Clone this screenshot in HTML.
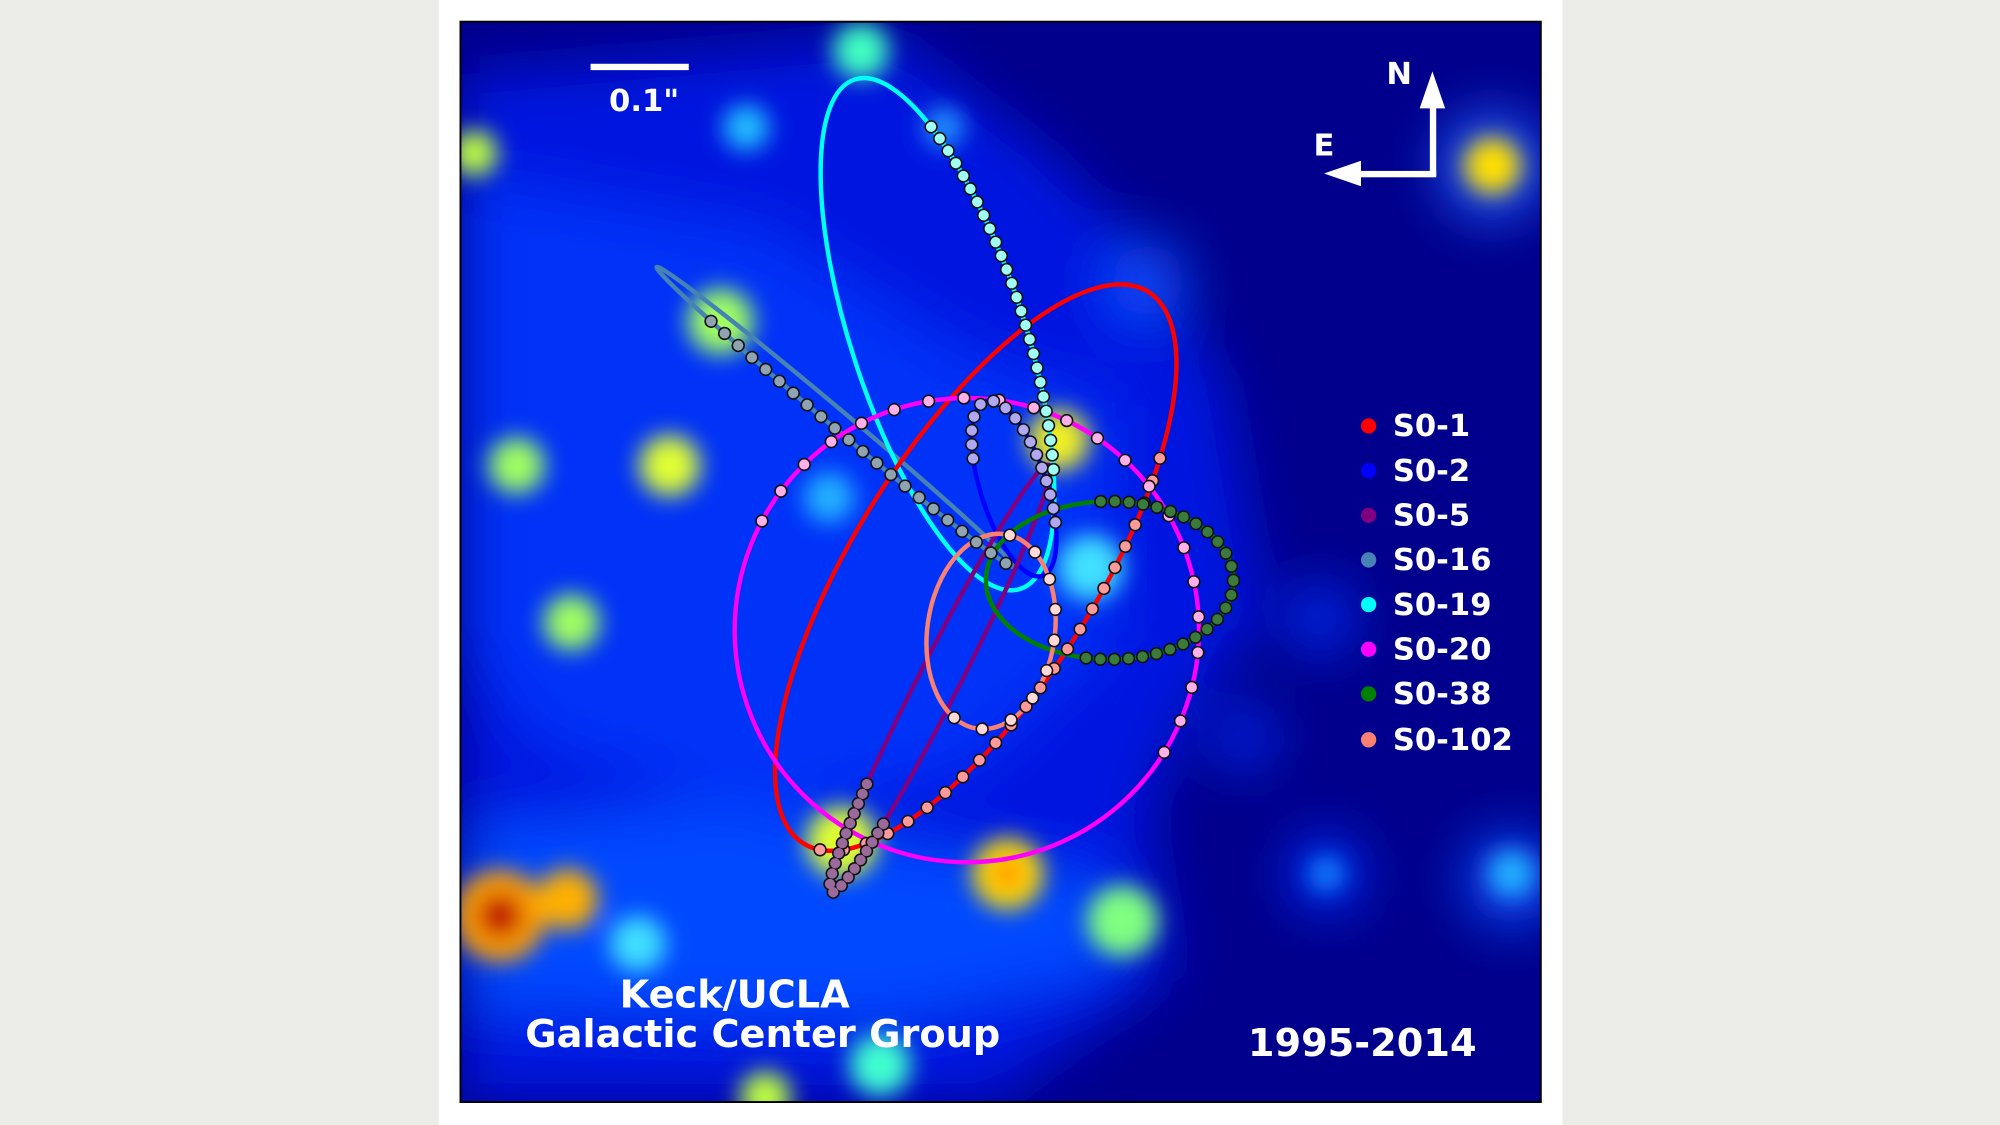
<!DOCTYPE html>
<html><head><meta charset="utf-8"><style>
html,body{margin:0;padding:0;background:#ecece8;width:2000px;height:1125px;overflow:hidden}
svg{display:block}
text{font-family:"DejaVu Sans","Liberation Sans",sans-serif;font-weight:bold;fill:#fff}
.o{fill:none;stroke-width:3.5}
.d1{fill:none;stroke:#111;stroke-width:10.5;stroke-linecap:round}
.d2{fill:none;stroke-width:8;stroke-linecap:round}
</style></head><body>
<svg width="2000" height="1125" viewBox="0 0 1568 882" preserveAspectRatio="none" xmlns="http://www.w3.org/2000/svg">
<defs>
<filter id="b1" x="-50%" y="-50%" width="200%" height="200%"><feGaussianBlur stdDeviation="22"/></filter>
<filter id="b2" x="-50%" y="-50%" width="200%" height="200%"><feGaussianBlur stdDeviation="9"/></filter>
<clipPath id="cp"><rect x="361" y="17" width="847" height="847"/></clipPath>
</defs>
<rect x="0" y="0" width="1568" height="882" fill="#ecece8"/>
<rect x="344" y="0" width="881" height="882" fill="#fff"/>
<g clip-path="url(#cp)">
<rect x="361" y="17" width="847" height="847" fill="#00008c"/>
<g filter="url(#b1)">
<path d="M361 60 L700 30 L820 120 L900 200 L960 300 L990 480 L930 560 L900 640 L920 760 L780 864 L361 864 Z" fill="#0018e0"/>
<path d="M361 140 L600 180 L760 280 L870 320 L870 500 L760 600 L600 640 L420 580 L361 500 Z" fill="#0030f8"/>
<path d="M361 650 L560 630 L700 660 L870 690 L880 760 L700 800 L361 790 Z" fill="#0048ff"/>
<circle cx="1170" cy="130" r="40" fill="#2060ff"/>
<circle cx="1185" cy="690" r="35" fill="#1050ff"/>
<circle cx="1040" cy="685" r="28" fill="#0030ff"/>
<circle cx="1035" cy="485" r="25" fill="#0030ff"/>
<circle cx="975" cy="578" r="22" fill="#0030ff"/>
<circle cx="900" cy="220" r="30" fill="#1050ff"/>
</g>
<g filter="url(#b2)">
<circle cx="675" cy="40" r="22" fill="#40ffc0"/>
<circle cx="585" cy="100" r="18" fill="#20c0ff"/>
<circle cx="372" cy="120" r="18" fill="#c0ff40"/>
<circle cx="405" cy="365" r="22" fill="#a0ff60"/>
<circle cx="525" cy="365" r="24" fill="#e0ff30"/>
<circle cx="448" cy="488" r="22" fill="#a0ff60"/>
<circle cx="565" cy="252" r="26" fill="#a0ff60"/>
<circle cx="690" cy="835" r="24" fill="#40ffd0"/>
<circle cx="600" cy="860" r="20" fill="#c0ff40"/>
<circle cx="392" cy="718" r="36" fill="#ffa000"/>
<circle cx="392" cy="718" r="18" fill="#c00000"/>
<circle cx="445" cy="705" r="24" fill="#ffb000"/>
<circle cx="790" cy="685" r="28" fill="#ffe000"/>
<circle cx="790" cy="685" r="12" fill="#ff8000"/>
<circle cx="880" cy="722" r="28" fill="#80ff80"/>
<circle cx="660" cy="660" r="28" fill="#e0ff30"/>
<circle cx="1170" cy="130" r="22" fill="#ffe000"/>
<circle cx="830" cy="345" r="24" fill="#f0f020"/>
<circle cx="855" cy="445" r="26" fill="#40e0ff"/>
<circle cx="650" cy="390" r="20" fill="#20b0ff"/>
<circle cx="1185" cy="685" r="18" fill="#20b0ff"/>
<circle cx="1040" cy="685" r="14" fill="#1080ff"/>
<circle cx="500" cy="740" r="22" fill="#40e0ff"/>
<circle cx="740" cy="100" r="16" fill="#2090ff"/>
</g>
<!-- orbits -->
<ellipse class="o" cx="655" cy="327" rx="183" ry="7" transform="rotate(40 655 327)" stroke="#4682b4"/>
<ellipse class="o" cx="735" cy="262" rx="210" ry="68" transform="rotate(72 735 262)" stroke="#00ffff"/>
<ellipse class="o" cx="765" cy="445" rx="255" ry="95" transform="rotate(-58 765 445)" stroke="#ff0000"/>
<ellipse class="o" cx="758" cy="494" rx="182" ry="182" stroke="#ff00ff"/>
<ellipse class="o" cx="795" cy="383" rx="72" ry="26" transform="rotate(72 795 383)" stroke="#0000ff"/>
<ellipse class="o" cx="737" cy="532" rx="188" ry="16" transform="rotate(117 737 532)" stroke="#800080"/>
<ellipse class="o" cx="870" cy="455" rx="97" ry="62" stroke="#008000"/>
<ellipse class="o" cx="777" cy="495" rx="50" ry="77" transform="rotate(8 777 495)" stroke="#fa8072"/>
<!-- dots -->
<g>
<ellipse class="d1" pathLength="100" cx="655" cy="327" rx="183" ry="7" transform="rotate(40 655 327)" stroke-dashoffset="-1" stroke-dasharray="0 1.94 0 1.94 0 1.94 0 1.94 0 1.94 0 1.94 0 1.94 0 1.94 0 1.94 0 1.94 0 1.94 0 1.94 0 1.94 0 1.94 0 1.94 0 1.94 0 1.94 0 1.94 0 1.94 0 1.94 0 1.94 0 59.26"/>
<ellipse class="d2" pathLength="100" cx="655" cy="327" rx="183" ry="7" transform="rotate(40 655 327)" stroke="#8fa3b0" stroke-dashoffset="-1" stroke-dasharray="0 1.94 0 1.94 0 1.94 0 1.94 0 1.94 0 1.94 0 1.94 0 1.94 0 1.94 0 1.94 0 1.94 0 1.94 0 1.94 0 1.94 0 1.94 0 1.94 0 1.94 0 1.94 0 1.94 0 1.94 0 1.94 0 59.26"/>

<ellipse class="d1" pathLength="100" cx="735" cy="262" rx="210" ry="68" transform="rotate(72 735 262)" stroke-dashoffset="-58" stroke-dasharray="0 1.24 0 1.24 0 1.24 0 1.24 0 1.24 0 1.24 0 1.24 0 1.24 0 1.24 0 1.24 0 1.24 0 1.24 0 1.24 0 1.24 0 1.24 0 1.24 0 1.24 0 1.24 0 1.24 0 1.24 0 1.24 0 1.24 0 1.24 0 1.24 0 1.24 0 69"/>
<ellipse class="d2" pathLength="100" cx="735" cy="262" rx="210" ry="68" transform="rotate(72 735 262)" stroke="#a0fff0" stroke-dashoffset="-58" stroke-dasharray="0 1.24 0 1.24 0 1.24 0 1.24 0 1.24 0 1.24 0 1.24 0 1.24 0 1.24 0 1.24 0 1.24 0 1.24 0 1.24 0 1.24 0 1.24 0 1.24 0 1.24 0 1.24 0 1.24 0 1.24 0 1.24 0 1.24 0 1.24 0 1.24 0 1.24 0 69"/>

<ellipse class="d1" pathLength="100" cx="765" cy="445" rx="255" ry="95" transform="rotate(-58 765 445)" stroke-dashoffset="-12" stroke-dasharray="0 1.6 0 1.6 0 1.6 0 1.6 0 1.6 0 1.6 0 1.6 0 1.6 0 1.6 0 1.6 0 1.6 0 1.6 0 1.6 0 1.6 0 1.6 0 1.6 0 1.6 0 1.6 0 1.6 0 1.6 0 1.6 0 1.6 0 1.6 0 63.2"/>
<ellipse class="d2" pathLength="100" cx="765" cy="445" rx="255" ry="95" transform="rotate(-58 765 445)" stroke="#ff9a9a" stroke-dashoffset="-12" stroke-dasharray="0 1.6 0 1.6 0 1.6 0 1.6 0 1.6 0 1.6 0 1.6 0 1.6 0 1.6 0 1.6 0 1.6 0 1.6 0 1.6 0 1.6 0 1.6 0 1.6 0 1.6 0 1.6 0 1.6 0 1.6 0 1.6 0 1.6 0 1.6 0 63.2"/>

<ellipse class="d1" pathLength="100" cx="758" cy="494" rx="182" ry="182" stroke-dashoffset="42.2" stroke-dasharray="0 2.43 0 2.43 0 2.43 0 2.43 0 2.43 0 2.43 0 2.43 0 2.43 0 2.43 0 2.43 0 2.43 0 2.43 0 2.43 0 2.43 0 2.43 0 2.43 0 2.43 0 2.43 0 2.43 0 2.43 0 2.43 0 48.97"/>
<ellipse class="d2" pathLength="100" cx="758" cy="494" rx="182" ry="182" stroke="#ffb0e8" stroke-dashoffset="42.2" stroke-dasharray="0 2.43 0 2.43 0 2.43 0 2.43 0 2.43 0 2.43 0 2.43 0 2.43 0 2.43 0 2.43 0 2.43 0 2.43 0 2.43 0 2.43 0 2.43 0 2.43 0 2.43 0 2.43 0 2.43 0 2.43 0 2.43 0 48.97"/>

<ellipse class="d1" pathLength="100" cx="795" cy="383" rx="72" ry="26" transform="rotate(72 795 383)" stroke-dashoffset="-35" stroke-dasharray="0 3.4 0 3.4 0 3.4 0 3.4 0 3.4 0 3.4 0 3.4 0 3.4 0 3.4 0 3.4 0 3.4 0 3.4 0 3.4 0 3.4 0 3.4 0 49"/>
<ellipse class="d2" pathLength="100" cx="795" cy="383" rx="72" ry="26" transform="rotate(72 795 383)" stroke="#b0a8f0" stroke-dashoffset="-35" stroke-dasharray="0 3.4 0 3.4 0 3.4 0 3.4 0 3.4 0 3.4 0 3.4 0 3.4 0 3.4 0 3.4 0 3.4 0 3.4 0 3.4 0 3.4 0 3.4 0 49"/>

<ellipse class="d1" pathLength="100" cx="737" cy="532" rx="188" ry="16" transform="rotate(117 737 532)" stroke-dashoffset="9" stroke-dasharray="0 1.1 0 1.1 0 1.1 0 1.1 0 1.1 0 1.1 0 1.1 0 1.1 0 1.1 0 1.1 0 1.1 0 1.1 0 1.1 0 1.1 0 1.1 0 1.1 0 1.1 0 1.1 0 1.1 0 79.1"/>
<ellipse class="d2" pathLength="100" cx="737" cy="532" rx="188" ry="16" transform="rotate(117 737 532)" stroke="#9a6a9a" stroke-dashoffset="9" stroke-dasharray="0 1.1 0 1.1 0 1.1 0 1.1 0 1.1 0 1.1 0 1.1 0 1.1 0 1.1 0 1.1 0 1.1 0 1.1 0 1.1 0 1.1 0 1.1 0 1.1 0 1.1 0 1.1 0 1.1 0 79.1"/>

<ellipse class="d1" pathLength="100" cx="870" cy="455" rx="97" ry="62" stroke-dashoffset="26.3" stroke-dasharray="0 2.2 0 2.2 0 2.2 0 2.2 0 2.2 0 2.2 0 2.2 0 2.2 0 2.2 0 2.2 0 2.2 0 2.2 0 2.2 0 2.2 0 2.2 0 2.2 0 2.2 0 2.2 0 2.2 0 2.2 0 2.2 0 2.2 0 2.2 0 2.2 0 2.2 0 45"/>
<ellipse class="d2" pathLength="100" cx="870" cy="455" rx="97" ry="62" stroke="#3a7a3a" stroke-dashoffset="26.3" stroke-dasharray="0 2.2 0 2.2 0 2.2 0 2.2 0 2.2 0 2.2 0 2.2 0 2.2 0 2.2 0 2.2 0 2.2 0 2.2 0 2.2 0 2.2 0 2.2 0 2.2 0 2.2 0 2.2 0 2.2 0 2.2 0 2.2 0 2.2 0 2.2 0 2.2 0 2.2 0 45"/>

<ellipse class="d1" pathLength="100" cx="777" cy="495" rx="50" ry="77" transform="rotate(8 777 495)" stroke-dashoffset="23.9" stroke-dasharray="0 6 0 6 0 6 0 6 0 6 0 6 0 6 0 6 0 6 0 46"/>
<ellipse class="d2" pathLength="100" cx="777" cy="495" rx="50" ry="77" transform="rotate(8 777 495)" stroke="#ffd8d8" stroke-dashoffset="23.9" stroke-dasharray="0 6 0 6 0 6 0 6 0 6 0 6 0 6 0 6 0 6 0 46"/>
</g>
</g>
<rect x="361" y="17" width="847" height="847" fill="none" stroke="#000" stroke-width="1.5"/>
<rect x="463" y="50" width="77" height="5" fill="#fff"/>
<text x="505" y="87" font-size="24" text-anchor="middle">0.1"</text>
<g fill="#fff">
<rect x="1121" y="82" width="5" height="56"/>
<polygon points="1123,56 1113,85 1133,85"/>
<rect x="1060" y="134" width="66" height="5"/>
<polygon points="1038,136 1067,126 1067,146"/>
</g>
<text x="1097" y="66" font-size="24" text-anchor="middle">N</text>
<text x="1038" y="122" font-size="24" text-anchor="middle">E</text>
<g font-size="24">
<circle cx="1073" cy="334" r="6" fill="#ff0000"/><text x="1092" y="342">S0-1</text>
<circle cx="1073" cy="369" r="6" fill="#0000ff"/><text x="1092" y="377">S0-2</text>
<circle cx="1073" cy="404" r="6" fill="#800080"/><text x="1092" y="412">S0-5</text>
<circle cx="1073" cy="439" r="6" fill="#4682b4"/><text x="1092" y="447">S0-16</text>
<circle cx="1073" cy="474" r="6" fill="#00ffff"/><text x="1092" y="482">S0-19</text>
<circle cx="1073" cy="509" r="6" fill="#ff00ff"/><text x="1092" y="517">S0-20</text>
<circle cx="1073" cy="544" r="6" fill="#008000"/><text x="1092" y="552">S0-38</text>
<circle cx="1073" cy="580" r="6" fill="#fa8072"/><text x="1092" y="588">S0-102</text>
</g>
<text x="576" y="790" font-size="30" text-anchor="middle">Keck/UCLA</text>
<text x="598" y="821" font-size="30" text-anchor="middle">Galactic Center Group</text>
<text x="1068" y="828" font-size="30" text-anchor="middle">1995-2014</text>
</svg>
</body></html>
